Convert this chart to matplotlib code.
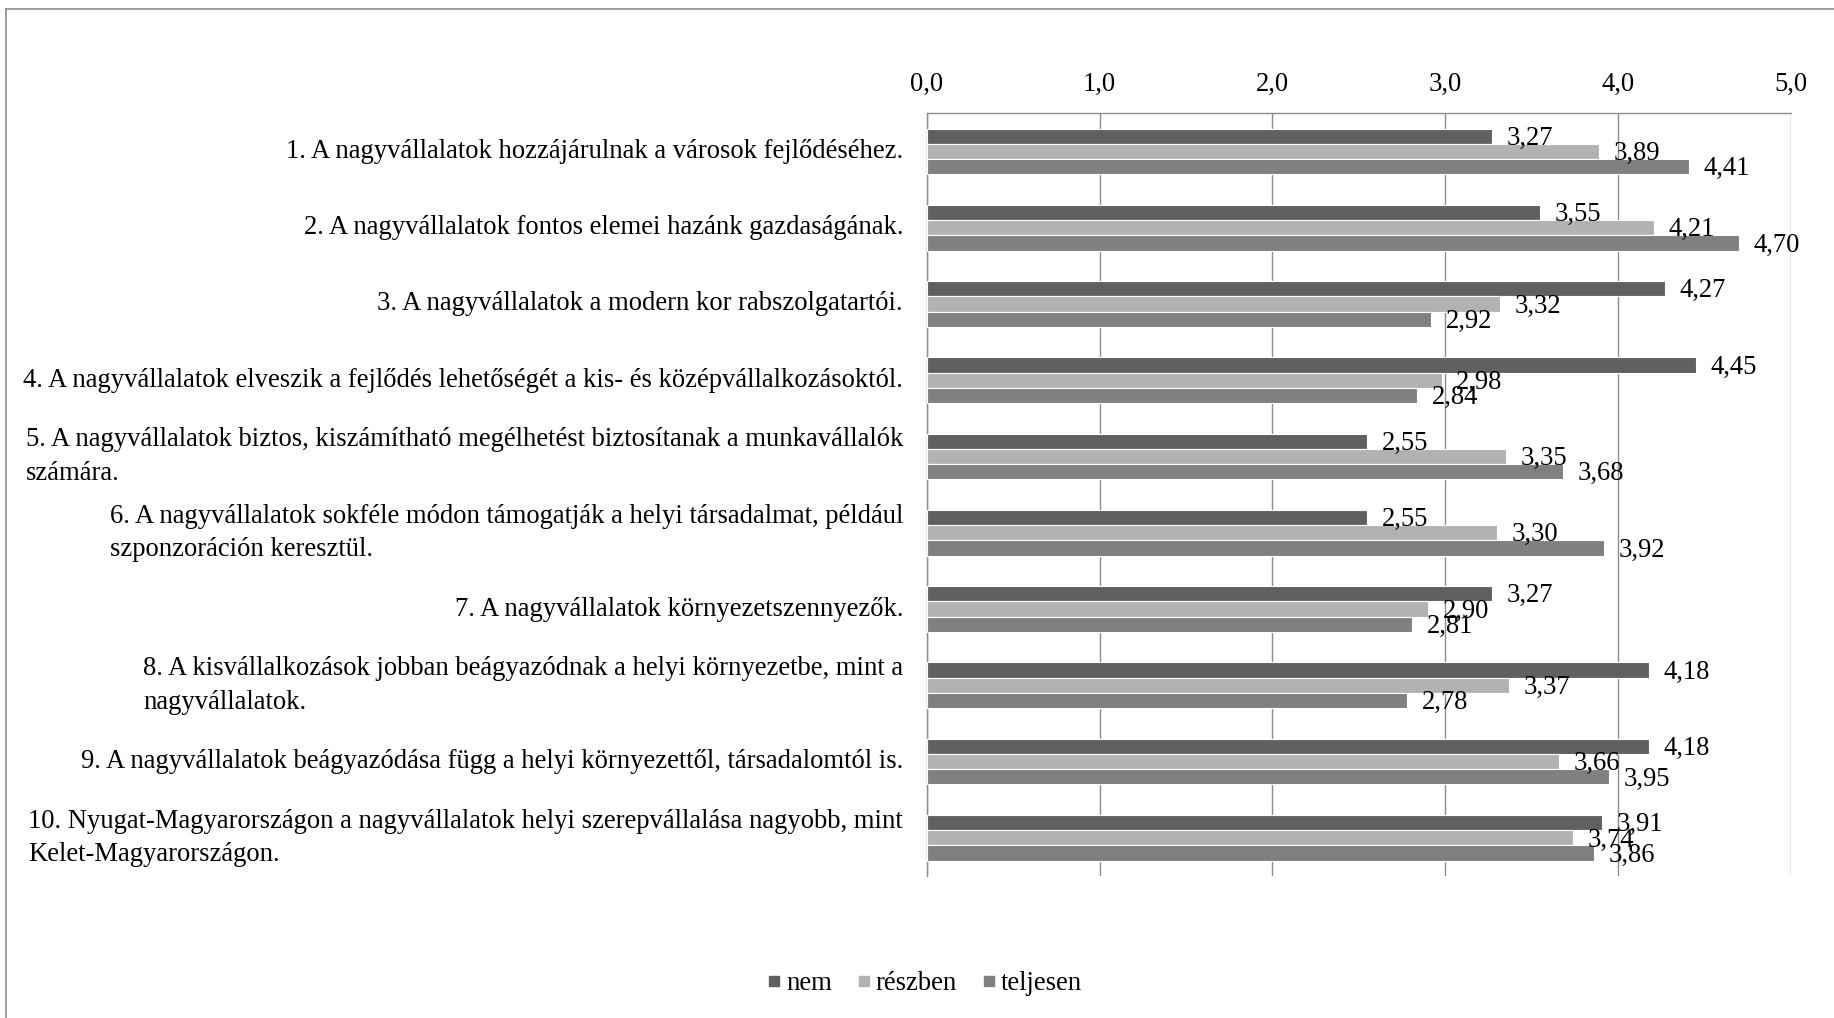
import matplotlib
matplotlib.use("Agg")
import matplotlib.pyplot as plt
from matplotlib.lines import Line2D
import numpy as np

categories = [
    "1. A nagyvállalatok hozzájárulnak a városok fejlődéséhez.",
    "2. A nagyvállalatok fontos elemei hazánk gazdaságának.",
    "3. A nagyvállalatok a modern kor rabszolgatartói.",
    "4. A nagyvállalatok elveszik a fejlődés lehetőségét a kis- és középvállalkozásoktól.",
    "5. A nagyvállalatok biztos, kiszámítható megélhetést biztosítanak a munkavállalók\nszámára.",
    "6. A nagyvállalatok sokféle módon támogatják a helyi társadalmat, például\nszponzoráción keresztül.",
    "7. A nagyvállalatok környezetszennyezők.",
    "8. A kisvállalkozások jobban beágyazódnak a helyi környezetbe, mint a\nnagyvállalatok.",
    "9. A nagyvállalatok beágyazódása függ a helyi környezettől, társadalomtól is.",
    "10. Nyugat-Magyarországon a nagyvállalatok helyi szerepvállalása nagyobb, mint\nKelet-Magyarországon.",
]
series_names = ["nem", "részben", "teljesen"]
nem = [3.27, 3.55, 4.27, 4.45, 2.55, 2.55, 3.27, 4.18, 4.18, 3.91]
reszben = [3.89, 4.21, 3.32, 2.98, 3.35, 3.30, 2.90, 3.37, 3.66, 3.74]
teljesen = [4.41, 4.70, 2.92, 2.84, 3.68, 3.92, 2.81, 2.78, 3.95, 3.86]
x_ticks = [0.0, 1.0, 2.0, 3.0, 4.0, 5.0]

colors = ["#606060", "#b2b2b2", "#808080"]
FONT = "Liberation Serif"
FS = 19.2

plt.rcParams["font.family"] = [FONT, "DejaVu Serif"]

fig = plt.figure(figsize=(18.34, 10.18), dpi=100)
ax = fig.add_axes([926.7 / 1834, 1 - 876 / 1018, (1790.7 - 926.7) / 1834, (876 - 113.3) / 1018])

n = len(categories)
y = np.arange(n)
h = 0.2
for i, (vals, name, c) in enumerate(zip([nem, reszben, teljesen], series_names, colors)):
    pos = y + (i - 1) * h
    ax.barh(pos, vals, height=h, color=c, edgecolor="white", linewidth=0.8, label=name, zorder=3)
    for p, v in zip(pos, vals):
        ax.annotate(f"{v:.2f}".replace(".", ","), xy=(v, p), xytext=(10.5, -1.5),
                    textcoords="offset points", ha="left", va="center",
                    fontsize=FS, color="black", zorder=5)

ax.set_xlim(0, 5)
ax.set_ylim(n - 0.5, -0.5)
ax.xaxis.tick_top()
ax.set_xticks(x_ticks)
ax.set_xticklabels([f"{t:.1f}".replace(".", ",") for t in x_ticks], fontsize=FS)
ax.tick_params(axis="x", length=0, pad=12)
ax.set_yticks(y)
ax.set_yticklabels([])
ax.tick_params(axis="y", length=0)
for k in range(n):
    ax.annotate(categories[k], xy=(0, k), xytext=(-17, 0), textcoords="offset points",
                ha="right", va="center", multialignment="left", fontsize=FS,
                linespacing=1.45, annotation_clip=False)

ax.grid(axis="x", color="#8c8c8c", linewidth=1, zorder=0)
ax.set_axisbelow(True)
for s in ["bottom", "right"]:
    ax.spines[s].set_visible(False)
ax.spines["top"].set_color("#8c8c8c")
ax.spines["left"].set_color("#8c8c8c")
ax.spines["top"].set_linewidth(1)
ax.spines["left"].set_linewidth(1)

handles = [Line2D([], [], marker="s", linestyle="none", markersize=7,
                  markerfacecolor=c, markeredgecolor=c) for c in colors]
fig.legend(handles, series_names, loc="center", bbox_to_anchor=(924 / 1834, 1 - 984 / 1018),
           ncol=3, frameon=False, fontsize=FS, handletextpad=0.15, columnspacing=0.9,
           handlelength=0.6)

# outer figure frame (left and top)
fig.add_artist(Line2D([6 / 1834, 6 / 1834], [0, 1 - 9 / 1018], transform=fig.transFigure,
                      color="#8c8c8c", linewidth=1.2))
fig.add_artist(Line2D([6 / 1834, 1], [1 - 9 / 1018, 1 - 9 / 1018], transform=fig.transFigure,
                      color="#8c8c8c", linewidth=1.2))

fig.savefig("out.png", dpi=100, facecolor="white")
